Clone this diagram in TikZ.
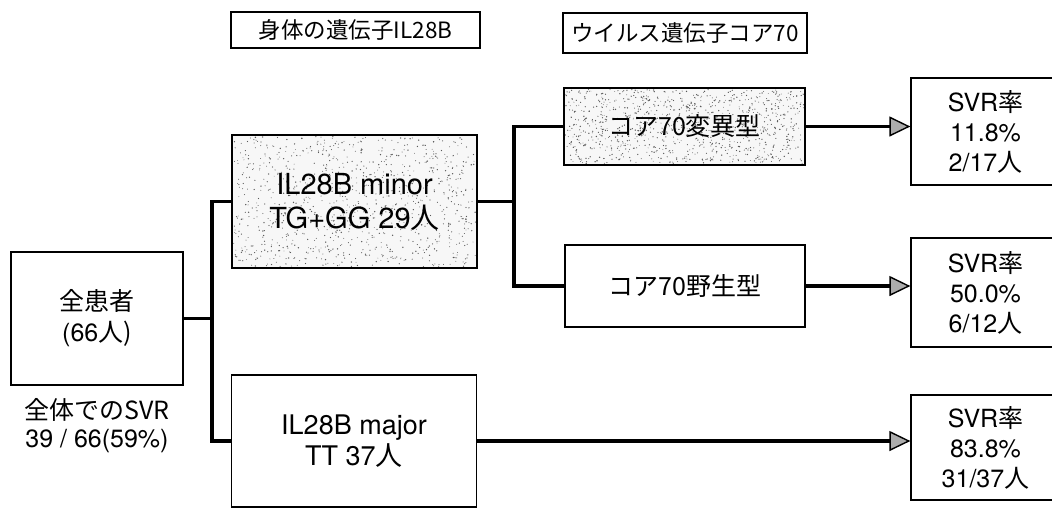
\documentclass[tikz,border=0pt]{standalone}
\usepackage{fontspec}
\setmainfont{TeX Gyre Heros}
\newfontfamily\jp{Noto Sans CJK JP}
\usetikzlibrary{arrows.meta,backgrounds}
\newcommand\stipplebox[4]{%
  \fill[gray!6] (#1,#2) rectangle ++(#3,#4);
  \foreach \i in {1,...,1000}{\fill[black!65] ({#1+1.5+(#3-3)*rnd},{#2+1.5+(#4-3)*rnd}) circle ({0.4pt+0.35pt*rnd});}
}
\begin{document}
\begin{tikzpicture}[x=1pt,y=-1pt,
  box/.style={draw, line width=1.3pt, inner sep=0pt, align=center},
  conn/.style={line width=3.2pt},
  arr/.style={line width=3.2pt, -{Triangle[length=21pt,width=20pt,fill=gray!65,line width=1.4pt]}},
  svr/.style={box, minimum width=149pt, font=\fontsize{25}{30}\selectfont},
]
\pgfmathsetseed{7}
\useasboundingbox (0,0) rectangle (1052,507);

% headers
\node[box, minimum width=249pt, minimum height=36pt, font=\fontsize{22.5}{26}\selectfont] (h1) at (355.5,30) {\jp{身体の遺伝子}IL28B};
\node[box, minimum width=244pt, minimum height=40pt, font=\fontsize{22.5}{26}\selectfont] (h2) at (685,33) {\jp{ウイルス遺伝子コア}70};

% main boxes
\node[box, minimum width=172pt, minimum height=133pt, font=\fontsize{25}{31}\selectfont] (all) at (97,318.5) {\jp{全患者}\\(66\jp{人})};
\node[align=center, font=\fontsize{25}{28}\selectfont] (note) at (97,426) {\jp{全体での}SVR\\39 / 66(59\%)};

\node[box, minimum width=245pt, minimum height=133pt, font=\fontsize{29}{34}\selectfont] (minor) at (354.5,201.5) {IL28B minor\\TG+GG 29\jp{人}};
\node[box, minimum width=245pt, minimum height=132pt, font=\fontsize{27}{31}\selectfont] (major) at (354,441) {IL28B major\\TT 37\jp{人}};

\node[box, minimum width=241pt, minimum height=77pt, font=\fontsize{25}{28}\selectfont] (mut) at (684.5,126.5) {\jp{コア}70\jp{変異型}};
\node[box, minimum width=240pt, minimum height=82pt, font=\fontsize{25}{28}\selectfont] (wild) at (685,286) {\jp{コア}70\jp{野生型}};

\node[svr, minimum height=107pt] (s1) at (985.5,131.5) {SVR\jp{率}\\11.8\%\\2/17\jp{人}};
\node[svr, minimum height=109pt] (s2) at (985.5,292.5) {SVR\jp{率}\\50.0\%\\6/12\jp{人}};
\node[svr, minimum height=105pt] (s3) at (985.5,447.5) {SVR\jp{率}\\83.8\%\\31/37\jp{人}};

% stipple shading
\begin{pgfonlayer}{background}
  \stipplebox{232}{135}{245}{133}
  \stipplebox{564}{88}{241}{77}
\end{pgfonlayer}

% connectors
\coordinate (j1) at (212,0);
\coordinate (j2) at (514,0);
\draw[conn] (all.east) -- (all.east -| j1);
\draw[conn] (minor.west) -| (j1 |- major.west) -- (major.west);
\draw[conn] (minor.east) -- (minor.east -| j2);
\draw[conn] (mut.west) -| (j2 |- wild.west) -- (wild.west);

\draw[arr] (mut.east) -- (mut.east -| s1.west);
\draw[arr] (wild.east) -- (wild.east -| s2.west);
\draw[arr] (major.east) -- (major.east -| s3.west);
\end{tikzpicture}
\end{document}
